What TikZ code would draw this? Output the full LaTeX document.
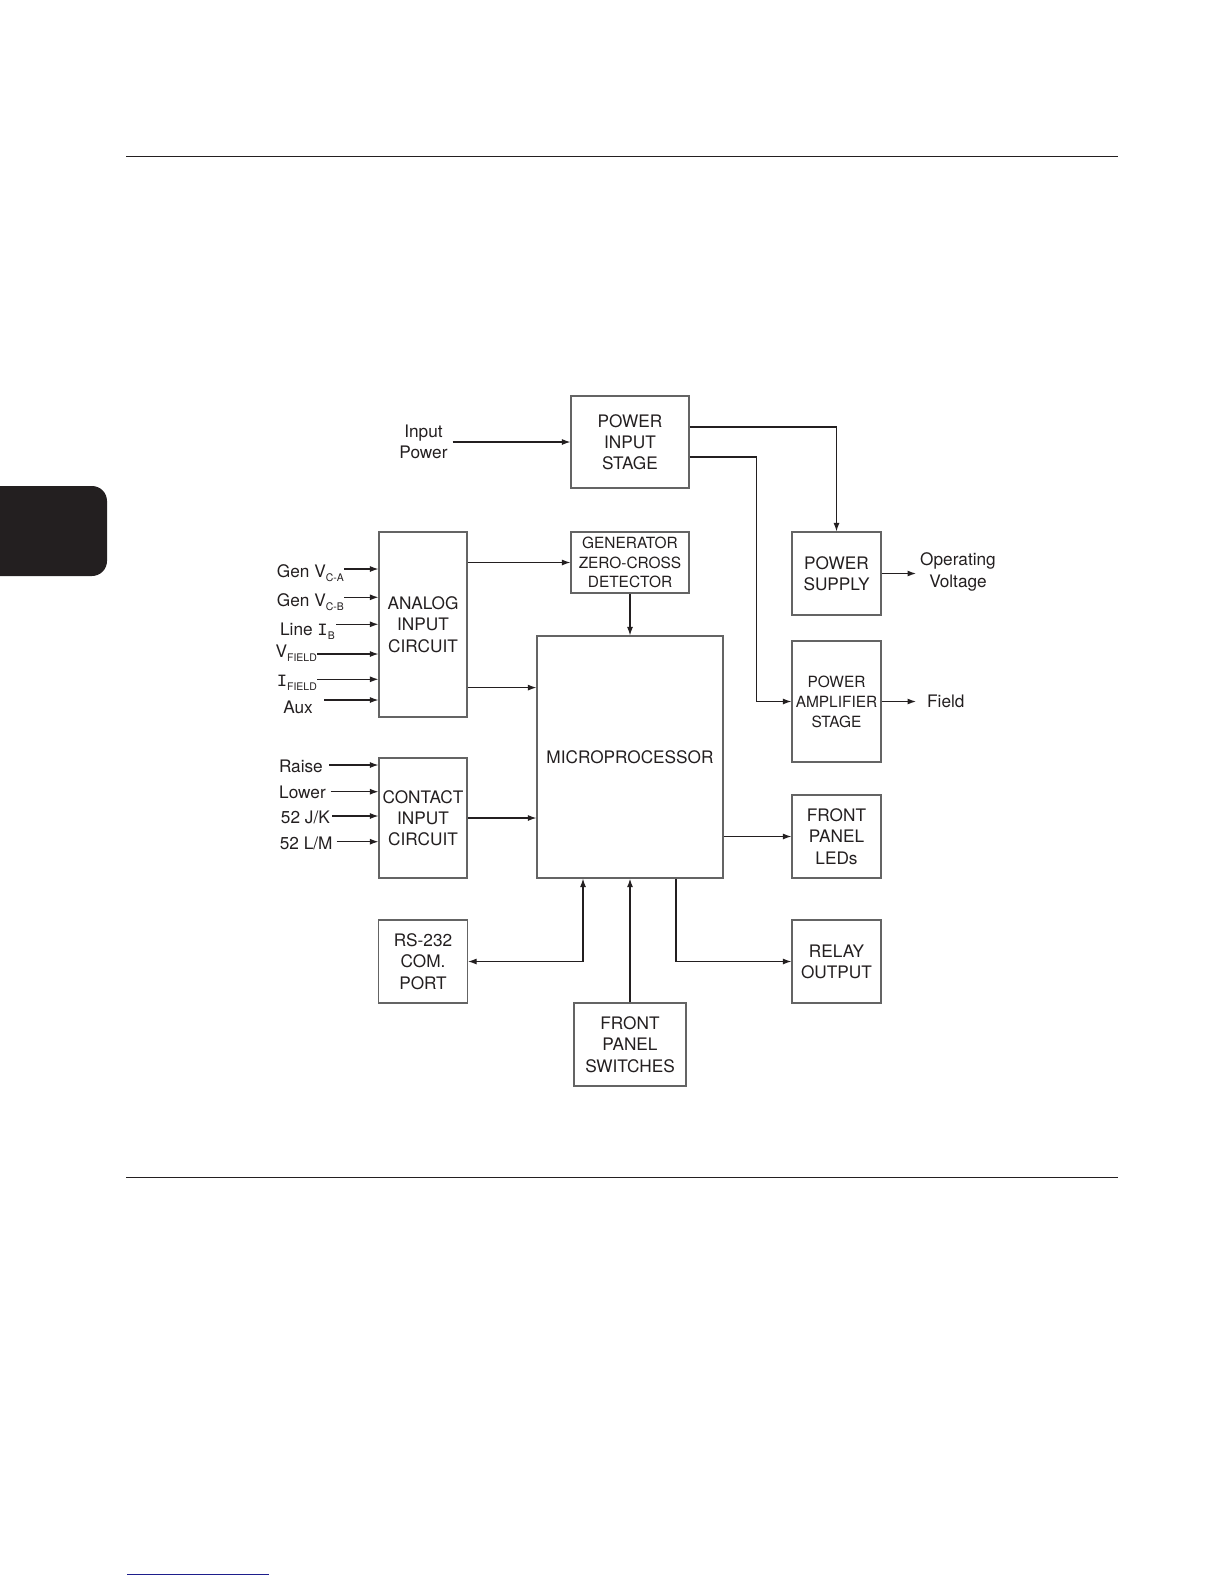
\documentclass[tikz,border=0pt]{standalone}
\usepackage{fontspec}
\setmainfont{TeX Gyre Heros}
\newfontfamily\slabI{Liberation Mono}
\usetikzlibrary{arrows.meta,calc,positioning}
\definecolor{InkGray}{RGB}{35,31,32}
\definecolor{BoxGray}{RGB}{100,100,100}
\definecolor{LinkNavy}{RGB}{30,30,140}
\newcommand{\sbs}[1]{\raisebox{-4.5bp}{\fontsize{10.5}{10.5}\selectfont #1}}
\newcommand{\Irm}{{\slabI I}}

\begin{document}
\begin{tikzpicture}[x=1bp, y=-1bp,
	blk/.style={draw=BoxGray, line width=1.2bp, inner sep=0pt, align=center, text=InkGray,
		font=\fontsize{17.3}{21.3}\selectfont},
	sblk/.style={blk, font=\fontsize{15.5}{19.5}\selectfont},
	lbl/.style={inner sep=0pt, text=InkGray, font=\fontsize{17.3}{21.3}\selectfont},
	arr/.style={draw=InkGray, line width=1.1bp, -{Latex[length=8.5bp,width=6bp]}},
	lnk/.style={draw=InkGray, line width=1.1bp}]
	\useasboundingbox (0,0) rectangle (1224,1584);
	% page furniture
	\draw[InkGray, line width=1.4bp] (126,156.5) -- (1118,156.5);
	\draw[InkGray, line width=1.4bp] (126,1177.5) -- (1118,1177.5);
	\fill[InkGray, rounded corners=15bp] (-20,486) rectangle (107,576);
	\draw[LinkNavy, line width=1.5bp] (127,1574.5) -- (269,1574.5);
	% blocks
	\node[blk, minimum width=118bp, minimum height=92bp] (pis) at (630,442) {POWER\\INPUT\\STAGE};
	\node[sblk, minimum width=118bp, minimum height=61bp] (gzc) at (630,562.5) {GENERATOR\\ZERO-CROSS\\DETECTOR};
	\node[blk, minimum width=89bp, minimum height=83bp] (ps) at (836.5,573.5) {POWER\\SUPPLY};
	\node[sblk, minimum width=89bp, minimum height=121bp, font=\fontsize{15.5}{20}\selectfont] (pas) at (836.5,701.5) {POWER\\AMPLIFIER\\STAGE};
	\node[blk, minimum width=88bp, minimum height=185bp] (aic) at (423,624.5) {ANALOG\\INPUT\\CIRCUIT};
	\node[blk, minimum width=88bp, minimum height=120bp] (cic) at (423,818) {CONTACT\\INPUT\\CIRCUIT};
	\node[blk, minimum width=186bp, minimum height=242bp] (mp) at (630,757) {MICROPROCESSOR};
	\node[blk, minimum width=89bp, minimum height=83bp] (led) at (836.5,836.5) {FRONT\\PANEL\\LEDs};
	\node[blk, minimum width=89bp, minimum height=83bp] (rs) at (423,961.5) {RS-232\\COM.\\PORT};
	\node[blk, minimum width=89bp, minimum height=83bp] (relay) at (836.5,961.5) {RELAY\\OUTPUT};
	\node[blk, minimum width=112bp, minimum height=83bp] (fps) at (630,1044.5) {FRONT\\PANEL\\SWITCHES};
	% outside labels
	\node[lbl, align=center, inner xsep=5bp] (inp) at (423.5,442) {Input\\Power};
	\node[lbl, align=center, inner xsep=4bp, anchor=west] (opv) at (916,572) {Operating\\Voltage};
	\node[lbl, inner xsep=11bp, anchor=west] (fld) at (916,701.5) {Field};
	\node[lbl, anchor=base east] (l1) at (344,577) {Gen V\sbs{C-A}};
	\node[lbl, anchor=base east] (l2) at (344,606) {Gen V\sbs{C-B}};
	\node[lbl, anchor=base east, inner xsep=1bp] (l3) at (336,635) {Line \Irm\sbs{B}};
	\node[lbl, anchor=base east] (l4) at (317,657) {V\sbs{FIELD}};
	\node[lbl, anchor=base east] (l5) at (317,686) {\Irm\sbs{FIELD}};
	\node[lbl, anchor=base east, inner xsep=11bp] (l6) at (324,713.3) {Aux};
	\node[lbl, anchor=base east, inner xsep=6bp] (c1) at (329,772) {Raise};
	\node[lbl, anchor=base east, inner xsep=4.7bp] (c2) at (330.7,798) {Lower};
	\node[lbl, anchor=base east, inner xsep=2bp] (c3) at (332,823.3) {52 J/K};
	\node[lbl, anchor=base east, inner xsep=4bp] (c4) at (336.7,849.3) {52 L/M};
	% inputs
	\foreach \n/\dy in {l1/8,l2/8.7,l3/10.7,l4/3,l5/6.7,l6/13.3}
		\draw[arr] ([yshift=\dy bp]\n.base east) coordinate (tip) -- (tip -| aic.west);
	\foreach \n/\dy in {c1/7,c2/6.3,c3/7.3,c4/7.6}
		\draw[arr] ([yshift=\dy bp]\n.base east) coordinate (tip) -- (tip -| cic.west);
	% connections
	\draw[arr] (inp.east) -- (inp.east -| pis.west);
	\draw[arr] ($(pis.east)+(0,-15)$) -| (ps.north);
	\draw[arr] ($(pis.east)+(0,15)$) -| ($(pas.west)+(-35,0)$) |- (pas.west);
	\draw[arr] (ps.east) -- (opv.west |- ps.east);
	\draw[arr] (pas.east) -- (fld.west);
	\draw[arr] (aic.east |- gzc) -- (gzc.west);
	\draw[arr] ($(aic.south east)+(0,-30)$) coordinate (tip) -- (tip -| mp.west);
	\draw[arr] (cic.east) -- (cic.east -| mp.west);
	\draw[arr] (gzc.south) -- (mp.north);
	\draw[arr] (mp.east |- led) -- (led.west);
	\draw[arr] ([xshift=46bp]mp.south) |- (relay.west);
	\draw[arr, {Latex[length=8.5bp,width=6bp]}-{Latex[length=8.5bp,width=6bp]}] (rs.east) -| ([xshift=-47bp]mp.south);
	\draw[arr, line width=1.4bp] (fps.north) -- (mp.south);
\end{tikzpicture}
\end{document}
